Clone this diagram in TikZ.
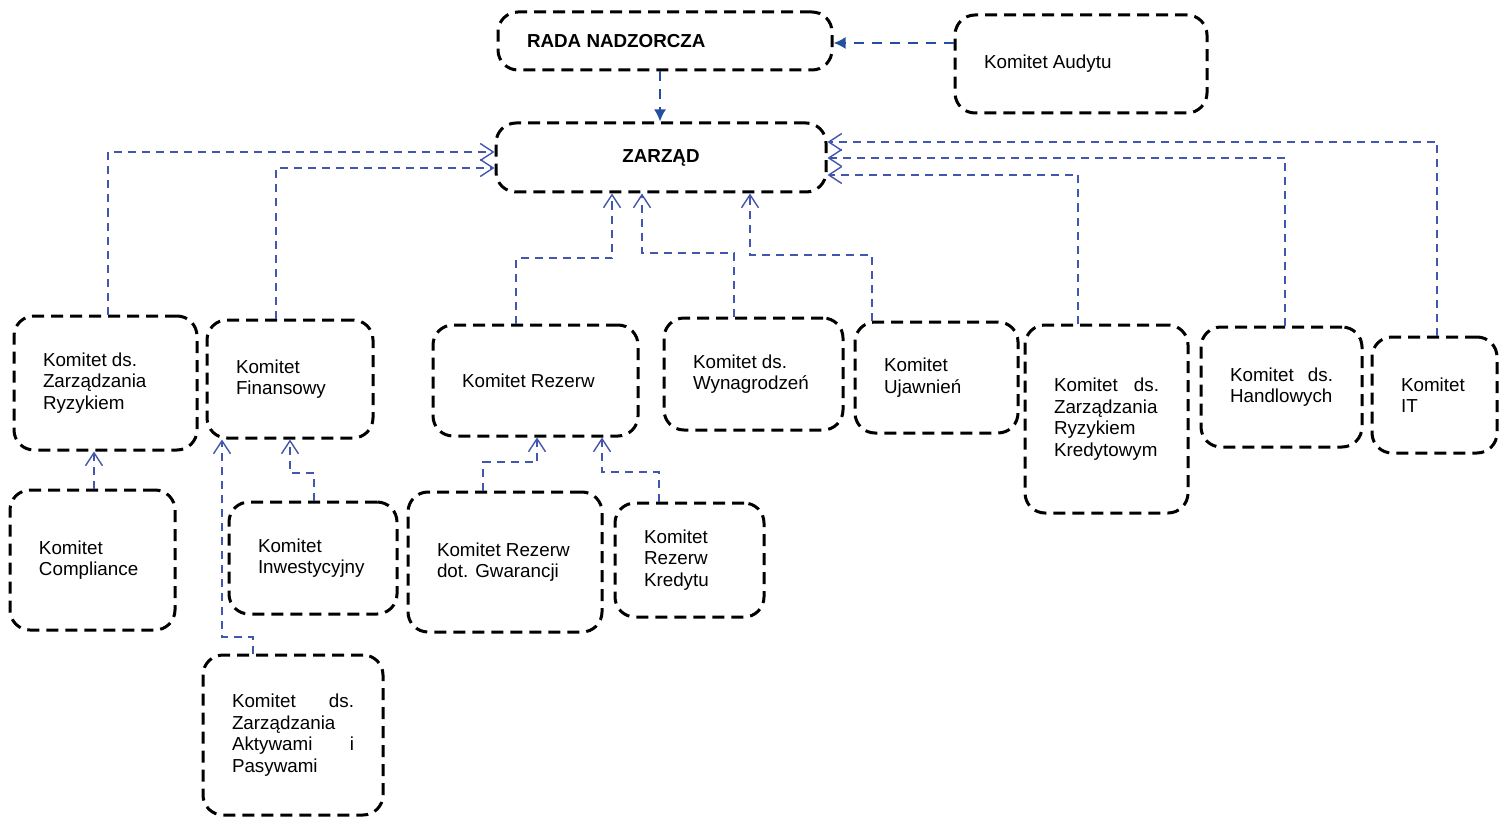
\documentclass[tikz,border=0pt]{standalone}
\usepackage{fontspec}
\setmainfont{Liberation Sans}
\usepackage{xcolor}
\usetikzlibrary{arrows.meta}

\definecolor{linkblue}{RGB}{66,86,172}
\definecolor{boardblue}{RGB}{36,78,160}

\begin{document}
\begin{tikzpicture}[x=0.5pt, y=-0.5pt,
    komitet/.style={draw, line width=1.5pt, dash pattern=on 6pt off 3.5pt, rounded corners=10pt,
        align=flush left, inner xsep=14.5pt, inner ysep=0pt, font=\fontsize{9.4}{10.8}\selectfont},
    board/.style={komitet, font=\fontsize{9.4}{10.8}\selectfont\bfseries},
    link/.style={draw=linkblue, line width=0.7pt, dash pattern=on 4pt off 3pt,
        -{Straight Barb[length=6.5pt,width=8.5pt,line width=0.7pt]}},
    boardlink/.style={color=boardblue, line width=1pt, dash pattern=on 5pt off 4pt,
        -{Latex[length=6pt,width=6pt]}}]
    \useasboundingbox (0,0) rectangle (1502,818);

    % Boards
    \node[board, minimum width=167pt, minimum height=29pt, text width=138pt] (rada) at (665,41) {RADA NADZORCZA};
    \node[komitet, minimum width=126pt, minimum height=49pt, text width=97pt] (audyt) at (1081,64) {Komitet Audytu};
    \node[board, minimum width=165pt, minimum height=34.5pt, text width=136pt, align=center] (zarzad) at (661,157.5) {ZARZĄD};

    % Committees under the board
    \node[komitet, minimum width=91.5pt, minimum height=67pt, text width=62.5pt] (ryzyko) at (105.5,383) {Komitet ds.\\ Zarządzania\\ Ryzykiem};
    \node[komitet, minimum width=83pt, minimum height=59pt, text width=54pt] (finanse) at (290,379) {Komitet\\ Finansowy};
    \node[komitet, minimum width=102.5pt, minimum height=55.5pt, text width=73.5pt] (rezerwy) at (535.5,380.5) {Komitet Rezerw};
    \node[komitet, minimum width=89.5pt, minimum height=56pt, text width=60.5pt] (wynagr) at (753.5,374) {Komitet ds.\\ Wynagrodzeń};
    \node[komitet, minimum width=81.5pt, minimum height=55.5pt, text width=52.5pt] (ujawn) at (936.5,377.5) {Komitet\\ Ujawnień};
    \node[komitet, minimum width=81.5pt, minimum height=94pt, text width=52.5pt] (kredyt) at (1106.5,419) {Komitet\hfill ds.\\ Zarządzania\\ Ryzykiem\\ Kredytowym};
    \node[komitet, minimum width=80.5pt, minimum height=60pt, text width=51.5pt] (handel) at (1281.5,387) {Komitet\hfill ds.\\ Handlowych};
    \node[komitet, minimum width=62.5pt, minimum height=58pt, text width=33.5pt] (it) at (1434.5,395) {Komitet\\ IT};

    % Sub-committees
    \node[komitet, minimum width=82.5pt, minimum height=70pt, text width=53.5pt] (compl) at (92.5,560) {Komitet\\ Compliance};
    \node[komitet, minimum width=84pt, minimum height=56pt, text width=55pt] (inwest) at (313,558) {Komitet\\ Inwestycyjny};
    \node[komitet, minimum width=97pt, minimum height=70pt, text width=68pt] (gwar) at (505,562) {Komitet Rezerw\\ dot. Gwarancji};
    \node[komitet, minimum width=74.5pt, minimum height=57pt, text width=45.5pt] (kredytu) at (689.5,560) {Komitet\\ Rezerw\\ Kredytu};
    \node[komitet, minimum width=90pt, minimum height=80pt, text width=61pt] (aktywa) at (293,735) {Komitet\hfill ds.\\ Zarządzania\\ Aktywami\hfill i\\ Pasywami};

    % Connections
    \draw[boardlink] (audyt.west |- 0,43) -- (rada.east |- 0,43);
    \draw[boardlink] (rada.south -| 660,0) -- (zarzad.north -| 660,0);

    \draw[link] (ryzyko.north -| 108,0) |- (zarzad.west |- 0,152);
    \draw[link] (finanse.north -| 276,0) |- (zarzad.west |- 0,168);
    \draw[link] (rezerwy.north -| 516,0) |- (612,258) -- (zarzad.south -| 612,0);
    \draw[link] (wynagr.north -| 734,0) |- (642,253) -- (zarzad.south -| 642,0);
    \draw[link] (ujawn.north -| 872,0) |- (750,255) -- (zarzad.south -| 750,0);
    \draw[link] (kredyt.north -| 1078,0) |- (zarzad.east |- 0,175);
    \draw[link] (handel.north -| 1285,0) |- (zarzad.east |- 0,158);
    \draw[link] (it.north -| 1437,0) |- (zarzad.east |- 0,142);

    \draw[link] (compl.north -| 94,0) -- (ryzyko.south -| 94,0);
    \draw[link] (inwest.north -| 314,0) |- (290,473) -- (finanse.south -| 290,0);
    \draw[link] (aktywa.north -| 253,0) |- (222,637) -- (finanse.south -| 222,0);
    \draw[link] (gwar.north -| 483,0) |- (537,462) -- (rezerwy.south -| 537,0);
    \draw[link] (kredytu.north -| 659,0) |- (602,472) -- (rezerwy.south -| 602,0);
\end{tikzpicture}
\end{document}
